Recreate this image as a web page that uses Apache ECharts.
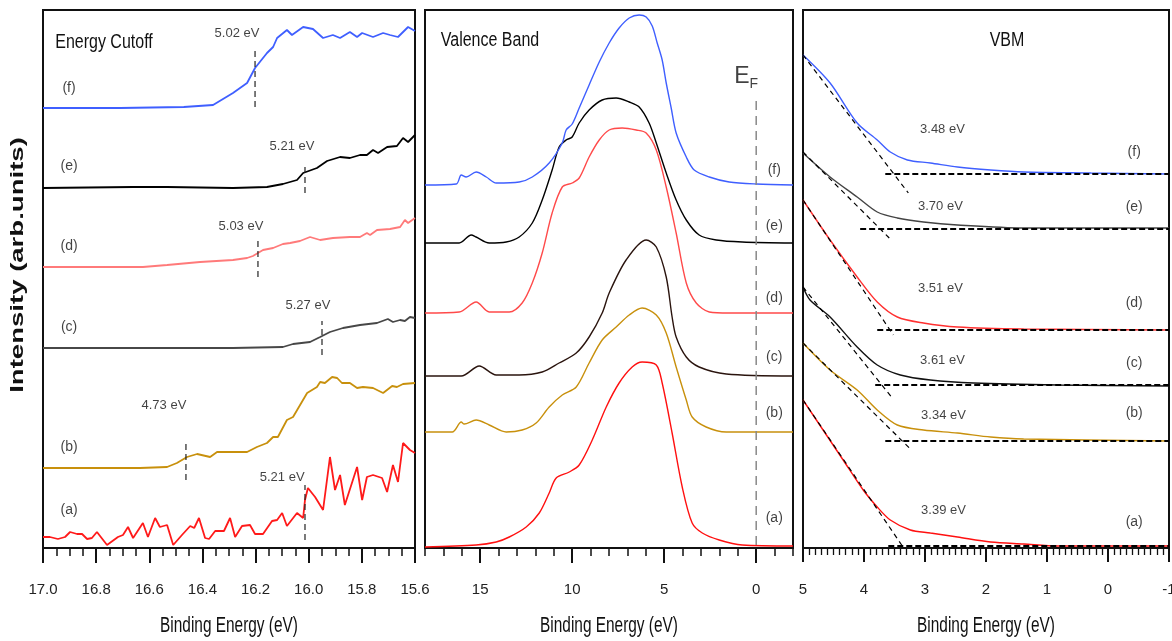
<!DOCTYPE html>
<html>
<head>
<meta charset="utf-8">
<title>UPS spectra</title>
<script src="https://cdn.jsdelivr.net/npm/echarts@6/dist/echarts.min.js"></script>
<style>
  html, body { margin: 0; padding: 0; background: #fff; }
  #chart { width: 1172px; height: 641px; }
</style>
</head>
<body>
<div id="chart"></div>
<script>
// samples, bottom to top
var tags = ['(a)', '(b)', '(c)', '(d)', '(e)', '(f)'];

// ---- panel 1 : energy cutoff, [binding energy eV, intensity arb.]
var cutoffA = [[17.00,11],[16.974,11],[16.944,9],[16.917,11],[16.898,16],[16.872,14],[16.853,14],[16.834,9],[16.816,10],[16.797,16],[16.759,3],[16.718,11],[16.699,13],[16.68,21],[16.661,10],[16.624,25],[16.605,11],[16.578,30],[16.56,21],[16.533,23],[16.51,3],[16.477,13],[16.446,22],[16.431,20],[16.413,30],[16.39,10],[16.375,9],[16.352,17],[16.319,17],[16.296,30],[16.277,11],[16.251,22],[16.221,23],[16.202,14],[16.172,14],[16.138,27],[16.119,28],[16.1,35],[16.082,22],[16.044,35],[16.021,30],[16.014,48],[16.003,60],[15.976,51],[15.946,38],[15.92,91],[15.901,58],[15.882,73],[15.864,43],[15.818,81],[15.799,48],[15.781,71],[15.758,73],[15.724,70],[15.705,56],[15.683,83],[15.664,66],[15.645,105],[15.619,98],[15.60,95]];
var cutoffB = [[17.00,80],[16.635,80],[16.533,81],[16.496,85],[16.458,91],[16.42,94],[16.371,91],[16.345,96],[16.232,96],[16.195,101],[16.157,105],[16.134,111],[16.116,111],[16.082,128],[16.059,131],[16.006,155],[15.969,161],[15.957,166],[15.939,165],[15.912,171],[15.893,170],[15.875,165],[15.845,165],[15.818,160],[15.796,161],[15.758,160],[15.72,155],[15.686,162],[15.668,161],[15.645,164],[15.60,165]];
var cutoffC = [[17.00,200],[16.533,200],[16.285,200],[16.097,201],[16.059,204],[15.995,206],[15.957,211],[15.92,216],[15.871,220],[15.807,223],[15.743,225],[15.702,229],[15.683,226],[15.656,228],[15.638,227],[15.619,231],[15.60,230]];
var cutoffD = [[17.00,281],[16.624,281],[16.533,283],[16.409,286],[16.285,288],[16.232,290],[16.21,292],[16.172,298],[16.134,300],[16.097,304],[16.07,305],[16.033,307],[15.995,311],[15.957,308],[15.909,310],[15.845,311],[15.807,311],[15.781,315],[15.769,313],[15.743,318],[15.694,319],[15.656,321],[15.638,328],[15.626,325],[15.60,330]];
var cutoffE = [[17.00,360],[16.661,361],[16.533,361],[16.285,360],[16.157,361],[16.097,364],[16.044,368],[16.021,375],[15.969,380],[15.931,387],[15.882,391],[15.845,390],[15.807,393],[15.781,393],[15.758,398],[15.739,395],[15.705,401],[15.668,402],[15.645,410],[15.626,406],[15.60,413]];
var cutoffF = [[17.00,440],[16.71,440],[16.47,441],[16.36,443],[16.285,455],[16.232,465],[16.202,480],[16.157,495],[16.134,501],[16.119,510],[16.082,518],[16.063,513],[16.021,521],[15.984,519],[15.946,510],[15.909,513],[15.882,510],[15.845,516],[15.818,511],[15.799,515],[15.758,511],[15.72,515],[15.694,513],[15.664,511],[15.626,521],[15.60,517]];
// cutoff markers: [energy, from, to]
var cutoffMarks = [[16.014,8,63],[16.462,68,108],[15.95,193,227],[16.191,271,310],[16.014,355,383],[16.202,441,498]];
var cutoffValues = ['5.21 eV','4.73 eV','5.27 eV','5.03 eV','5.21 eV','5.02 eV'];
var cutoffValuePos = [[16.10,71],[16.545,143],[16.003,243],[16.255,322],[16.063,402],[16.27,515]];
var cutoffTagPos = [[16.902,38],[16.902,101],[16.902,221],[16.902,302],[16.902,382],[16.902,460]];

// ---- panel 2 : valence band
var vbA = [[18,1],[15.22,3],[14.13,6],[13.42,11],[12.5,21],[11.79,35],[11.25,55],[10.87,70],[10.16,76],[9.62,83],[8.91,108],[8.15,141],[7.45,165],[6.74,181],[6.2,186],[5.43,183],[5.11,165],[4.57,115],[4.02,61],[3.48,25],[2.93,15],[2.01,8],[0.76,3],[-2,2]];
var vbB = [[18,116],[16.52,116],[16.03,126],[15.87,124],[15.22,128],[14.51,123],[13.59,116],[12.72,118],[11.96,125],[11.25,141],[10.54,153],[9.78,161],[9.08,185],[8.37,208],[7.61,221],[6.9,233],[6.2,240],[5.43,233],[4.89,215],[4.35,181],[3.8,148],[3.48,131],[2.72,121],[1.63,116],[-2,116]];
var vbC = [[18,172],[16.03,172],[15.05,182],[14.13,173],[12.88,173],[11.63,176],[10.71,185],[9.78,195],[9.08,211],[8.37,235],[7.99,255],[7.07,288],[5.98,308],[5.43,301],[4.89,271],[4.57,231],[4.35,211],[3.8,191],[3.1,181],[1.63,174],[-2,172]];
var vbD = [[18,235],[16.14,236],[15.22,246],[14.51,236],[13.42,236],[12.72,245],[12.17,265],[11.63,295],[11.09,335],[10.54,361],[10.0,365],[9.62,370],[9.08,391],[8.53,408],[7.99,418],[7.28,420],[6.52,418],[5.98,415],[5.43,398],[4.89,361],[4.35,315],[3.8,265],[3.26,245],[2.55,236],[1.47,235],[-2,235]];
var vbE = [[18,305],[16.14,305],[15.49,313],[15.22,311],[14.51,305],[13.59,306],[12.88,311],[12.17,325],[11.63,348],[11.09,378],[10.71,401],[10.33,408],[10.0,411],[9.62,425],[9.08,438],[8.37,448],[7.61,450],[6.9,446],[6.36,441],[5.82,425],[5.43,405],[4.89,375],[4.35,348],[3.8,328],[3.1,313],[2.17,308],[0.76,306],[-2,305]];
var vbF = [[18,363],[16.3,364],[16.03,373],[15.76,371],[15.22,376],[14.67,371],[14.13,365],[12.88,366],[12.17,371],[11.25,385],[10.54,405],[10.33,418],[10.0,424],[9.62,440],[9.08,463],[8.53,486],[7.99,505],[7.45,520],[6.9,530],[6.36,533],[5.98,531],[5.65,522],[5.38,505],[5.11,488],[4.89,465],[4.62,440],[4.35,415],[3.8,391],[3.37,378],[2.55,371],[1.47,366],[0,364],[-2,363]];
var fermiLine = [[0,3],[0,451]];
var vbTagPos = [[-0.98,30],[-0.98,135],[-0.98,191],[-0.98,250],[-0.98,322],[-0.98,378]];

// ---- panel 3 : valence band maximum
var vbmA = [[5,148],[4.671,118],[4.342,88],[4.013,58],[3.783,41],[3.569,28],[3.24,18],[2.911,15],[2.467,11],[1.924,6],[1.382,4],[0.822,2],[-1,2]];
var vbmB = [[5,205],[4.556,178],[4.112,158],[3.783,138],[3.454,123],[3.026,118],[2.467,115],[1.924,111],[1.382,109],[-1,107]];
var vbmC = [[5,261],[4.885,248],[4.556,231],[4.112,201],[3.783,183],[3.405,173],[2.911,168],[2.204,165],[0.822,163],[-1,162]];
var vbmD = [[5,348],[4.556,308],[4.112,271],[3.783,246],[3.454,231],[3.026,225],[2.467,221],[1.382,219],[-1,218]];
var vbmE = [[5,395],[4.556,371],[4.112,351],[3.783,336],[3.454,330],[3.026,326],[2.467,323],[1.382,320],[-1,320]];
var vbmF = [[5,493],[4.556,465],[4.112,425],[3.783,408],[3.569,396],[3.289,388],[2.911,385],[2.467,381],[1.924,378],[1.382,376],[0.28,375],[-1,374]];
// linear fit of the edge: [E1, I1, E2, I2]
var vbmTangents = [[5,148,3.372,2],[5,205,3.257,100],[5,261,3.536,150],[5,348,3.52,213],[5,396,3.586,310],[5,493,3.273,355]];
// background level: [start E, level]
var vbmBaselines = [[3.602,2],[3.651,107],[3.816,163],[3.783,218],[4.063,319],[3.651,374]];
var vbmValues = ['3.39 eV','3.34 eV','3.61 eV','3.51 eV','3.70 eV','3.48 eV'];
var vbmValuePos = [[2.697,38],[2.697,133],[2.714,188],[2.747,260],[2.747,342],[2.714,419]];
var vbmTagPos = [[-0.43,26],[-0.43,135],[-0.43,185],[-0.43,245],[-0.43,341],[-0.43,396]];

var cutoffColors = ['#ff1a1a','#c8900c','#474747','#ff7a7a','#000000','#3f5fff'];
var vbColors = ['#ff1010','#c8900c','#2a140e','#ff4a4a','#000000','#3f5fff'];
var vbmColors = ['#ff1010','#c8900c','#111111','#ff3030','#444444','#3f5fff'];

var SANS = "'Liberation Sans', Arial, sans-serif";

var chart = echarts.init(document.getElementById('chart'));

function curve(data, idx, color, width, smooth) {
  return {
    type: 'line', xAxisIndex: idx, yAxisIndex: idx, data: data,
    showSymbol: false, symbol: 'none', silent: true, z: 2,
    smooth: smooth || false,
    lineStyle: { color: color, width: width }
  };
}

function dashed(data, idx, color, width, dash) {
  return {
    type: 'line', xAxisIndex: idx, yAxisIndex: idx, data: data,
    showSymbol: false, symbol: 'none', silent: true, z: 4,
    lineStyle: { color: color, width: width, type: dash }
  };
}

function texts(pos, strs, idx, size) {
  return {
    type: 'scatter', xAxisIndex: idx, yAxisIndex: idx, silent: true, z: 5,
    symbolSize: 1, itemStyle: { color: 'transparent' },
    data: pos.map(function (p, i) { return [p[0], p[1], strs[i]]; }),
    label: {
      show: true, position: 'inside', color: '#111',
      fontFamily: SANS, fontSize: size,
      formatter: function (p) { return p.data[2]; }
    }
  };
}

var series = [];
[cutoffA, cutoffB, cutoffC, cutoffD, cutoffE, cutoffF].forEach(function (d, i) {
  series.push(curve(d, 0, cutoffColors[i], 1.8));
});
cutoffMarks.forEach(function (m) {
  series.push(dashed([[m[0], m[1]], [m[0], m[2]]], 0, '#222', 1.2, [6, 4]));
});
series.push(texts(cutoffValuePos, cutoffValues, 0, 13));
series.push(texts(cutoffTagPos, tags, 0, 14));

[vbA, vbB, vbC, vbD, vbE, vbF].forEach(function (d, i) {
  series.push(curve(d, 1, vbColors[i], 1.4, 0.3));
});
series.push(dashed(fermiLine, 1, '#888', 1.5, [9, 6]));
series.push(texts(vbTagPos, tags, 1, 14));
series.push({
  type: 'scatter', xAxisIndex: 1, yAxisIndex: 1, silent: true, z: 5,
  symbolSize: 1, itemStyle: { color: 'transparent' },
  data: [[0.55, 471]],
  label: {
    show: true, position: 'inside', fontFamily: SANS,
    formatter: '{e|E}{f|F}',
    rich: {
      e: { fontSize: 23, color: '#111', fontFamily: SANS },
      f: { fontSize: 14, color: '#111', fontFamily: SANS, padding: [14, 0, 0, 0] }
    }
  }
});

[vbmA, vbmB, vbmC, vbmD, vbmE, vbmF].forEach(function (d, i) {
  series.push(curve(d, 3, vbmColors[i], 1.4, 0.3));
});
vbmTangents.forEach(function (t) {
  series.push(dashed([[t[0], t[1]], [t[2], t[3]]], 3, '#000', 1.2, [5, 4]));
});
vbmBaselines.forEach(function (b) {
  series.push(dashed([[b[0], b[1]], [-1, b[1]]], 3, '#000', 2, [6, 3]));
});
series.push(texts(vbmValuePos, vbmValues, 3, 13));
series.push(texts(vbmTagPos, tags, 3, 14));

var gridBox = { show: true, borderColor: '#111', borderWidth: 2, top: 10, height: 538, outerBoundsMode: 'none', containLabel: false };

function bottomAxis(grid, min, max, interval, extra) {
  var ax = {
    type: 'value', gridIndex: grid, min: min, max: max, interval: interval,
    inverse: true, position: 'bottom', offset: 2,
    axisLine: { show: false },
    axisTick: { show: true, inside: false, length: 15, lineStyle: { color: '#111', width: 2 } },
    minorTick: { show: false },
    splitLine: { show: false }, minorSplitLine: { show: false },
    axisLabel: { show: true, margin: 32, fontSize: 15, color: '#222', fontFamily: SANS }
  };
  return Object.assign(ax, extra || {});
}

function label(text, x, y, size, sx, extra) {
  return Object.assign({
    type: 'text', x: x, y: y, scaleX: sx, silent: true,
    style: { text: text, font: size + 'px ' + SANS, fill: '#111', textAlign: 'center', textVerticalAlign: 'middle' }
  }, extra || {});
}

var option = {
  animation: false,
  backgroundColor: '#fff',
  grid: [
    Object.assign({ left: 43, right: 757 }, gridBox),
    Object.assign({ left: 425, right: 379 }, gridBox),
    Object.assign({}, gridBox, { left: 425, right: 379, show: false }),
    Object.assign({ left: 803, right: 3 }, gridBox)
  ],
  xAxis: [
    bottomAxis(0, 15.6, 17.0, 0.2, {
      minorTick: { show: true, splitNumber: 4, length: 8, lineStyle: { color: '#111', width: 1.5 } },
      axisLabel: { show: true, margin: 32, fontSize: 15, color: '#222', fontFamily: SANS,
        showMinLabel: true, showMaxLabel: true,
        formatter: function (v) { return v.toFixed(1); } }
    }),
    bottomAxis(1, -2, 18, 1, {
      axisTick: { show: true, length: 8, lineStyle: { color: '#111', width: 1.5 } },
      axisLabel: { show: true, margin: 32, fontSize: 15, color: '#222', fontFamily: SANS,
        customValues: [15, 10, 5, 0] }
    }),
    bottomAxis(2, -2, 18, 1, {
      axisTick: { show: true, length: 15, customValues: [15, 10, 5, 0], lineStyle: { color: '#111', width: 2 } },
      axisLabel: { show: false }
    }),
    bottomAxis(3, -1, 5, 1, {
      axisTick: { show: true, length: 14, lineStyle: { color: '#111', width: 2 } },
      minorTick: { show: true, splitNumber: 10, length: 7, lineStyle: { color: '#111', width: 1.3 } }
    })
  ],
  yAxis: [0, 1, 2, 3].map(function (i) {
    return {
      type: 'value', gridIndex: i, min: 0, max: 538, show: false,
      splitLine: { show: false }
    };
  }),
  graphic: [
    label('Energy Cutoff', 104, 42, 20, 0.8),
    label('Valence Band', 490, 40, 20, 0.8),
    label('VBM', 1007, 40, 20, 0.8),
    label('Binding Energy (eV)', 229, 626, 22, 0.7),
    label('Binding Energy (eV)', 609, 626, 22, 0.7),
    label('Binding Energy (eV)', 986, 626, 22, 0.7),
    {
      type: 'text', x: 18, y: 265, rotation: Math.PI / 2, scaleX: 1.45, silent: true,
      style: { text: 'Intensity (arb.units)', font: 'bold 19px ' + SANS, fill: '#111',
        textAlign: 'center', textVerticalAlign: 'middle' }
    }
  ],
  series: series
};

chart.setOption(option);
</script>
</body>
</html>
